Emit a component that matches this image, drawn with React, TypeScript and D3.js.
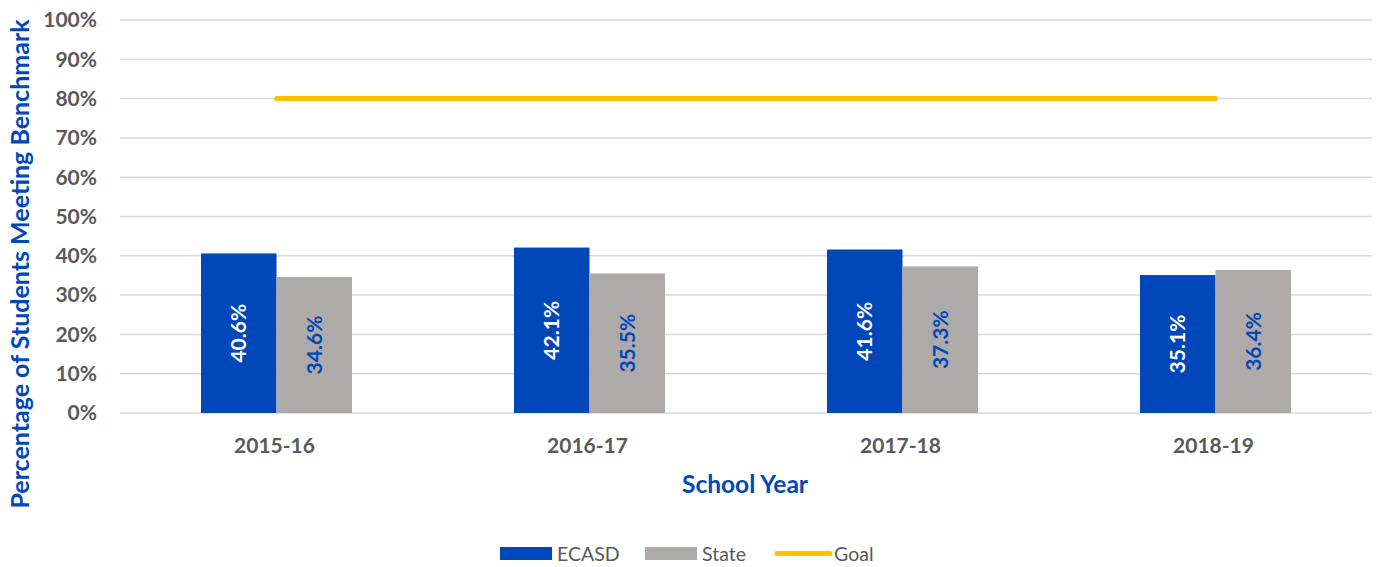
import React from "react";
import * as d3 from "d3";

const years = ["2015-16", "2016-17", "2017-18", "2018-19"];
const ecasd = [40.6, 42.1, 41.6, 35.1];
const state = [34.6, 35.5, 37.3, 36.4];
const goal = [80, 80, 80, 80];
const yTicks = [0, 10, 20, 30, 40, 50, 60, 70, 80, 90, 100];

const W = 1376, H = 567;
const FONT = "Lato, 'Open Sans', sans-serif";
const BLUE = "#0047BA";
const GRAY = "#AEAAAA";
const GOLD = "#FFC000";
const TXT = "#595959";

export default function App() {
  const left = 120, right = 1372, top = 20, bottom = 413;
  const x = d3.scaleBand<string>().domain(years).range([left, right]).paddingInner(0.52).paddingOuter(0.26);
  const y = d3.scaleLinear().domain([0, 100]).range([bottom, top]);
  const bw = 75.5;
  const center = (d: string) => (x(d) as number) + x.bandwidth() / 2;
  const line = d3.line<number>().x((_, i) => center(years[i])).y(v => y(v));

  return (
    <svg width={W} height={H} style={{ position: "absolute", left: 0, top: 0, fontFamily: FONT }}>
      <rect width={W} height={H} fill="#fff" />
      {yTicks.map(t => (
        <g key={t}>
          <line x1={left} x2={right} y1={y(t)} y2={y(t)} stroke="#D9D9D9" strokeWidth={1.5} />
          <text x={97} y={y(t)} dy="0.35em" textAnchor="end" fontSize={21} fontWeight={700} fill={TXT}>{t}%</text>
        </g>
      ))}
      {years.map((yr, i) => {
        const c = center(yr);
        return (
          <g key={yr}>
            <rect x={c - bw} y={y(ecasd[i])} width={bw} height={y(0) - y(ecasd[i])} fill={BLUE} />
            <rect x={c} y={y(state[i])} width={bw} height={y(0) - y(state[i])} fill={GRAY} />
            <text transform={`translate(${c - bw / 2},${(y(ecasd[i]) + y(0)) / 2}) rotate(-90)`} textAnchor="middle" dy="0.35em" fontSize={21} fontWeight={700} fill="#fff">{ecasd[i].toFixed(1)}%</text>
            <text transform={`translate(${c + bw / 2},${(y(state[i]) + y(0)) / 2}) rotate(-90)`} textAnchor="middle" dy="0.35em" fontSize={21} fontWeight={700} fill={BLUE}>{state[i].toFixed(1)}%</text>
            <text x={c - 2} y={446} dy="0.35em" textAnchor="middle" fontSize={21} fontWeight={700} fill={TXT}>{yr}</text>
          </g>
        );
      })}
      <path d={line(goal) || ""} fill="none" stroke={GOLD} strokeWidth={5} strokeLinecap="round" />
      <text x={745} y={484} dy="0.35em" textAnchor="middle" fontSize={24.5} fontWeight={700} fill={BLUE}>School Year</text>
      <text transform={`translate(20,264) rotate(-90)`} textAnchor="middle" dy="0.35em" fontSize={25} fontWeight={700} fill={BLUE}>Percentage of Students Meeting Benchmark</text>
      <g fontSize={19.5} fill={TXT}>
        <rect x={500} y={547} width={52} height={13} fill={BLUE} />
        <text x={557} y={554} dy="0.35em">ECASD</text>
        <rect x={645} y={547} width={52} height={13} fill={GRAY} />
        <text x={702} y={554} dy="0.35em">State</text>
        <line x1={777} x2={830} y1={553.5} y2={553.5} stroke={GOLD} strokeWidth={5} strokeLinecap="round" />
        <text x={834} y={554} dy="0.35em">Goal</text>
      </g>
    </svg>
  );
}
